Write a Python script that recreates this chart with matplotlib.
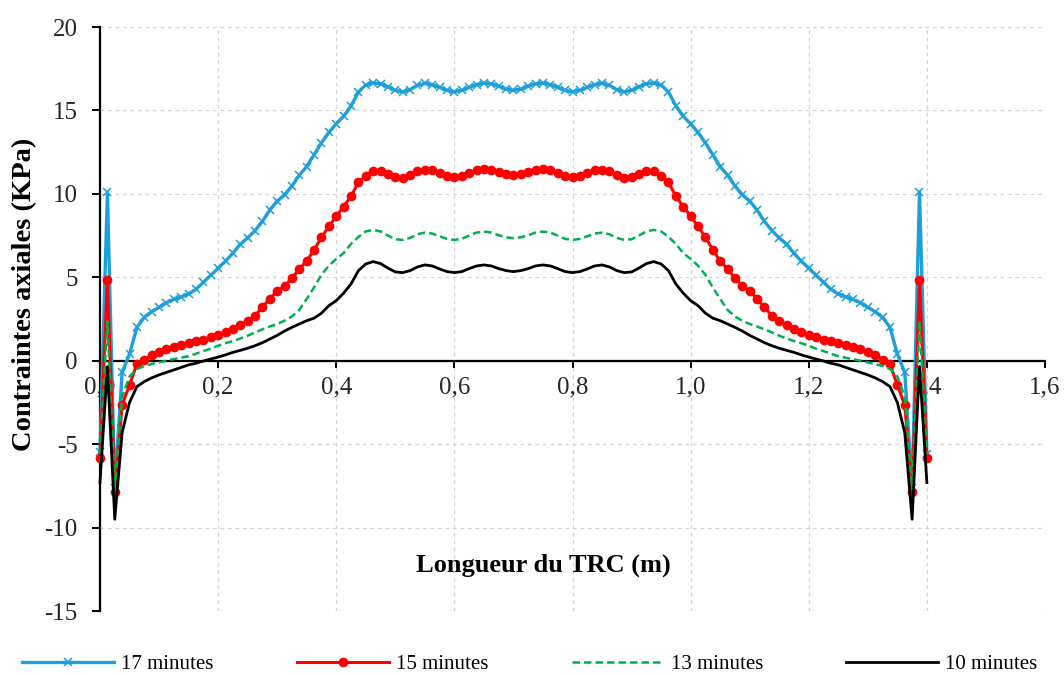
import matplotlib
matplotlib.use("Agg")
import matplotlib.pyplot as plt
from matplotlib.lines import Line2D

# ---------------- data ----------------
longueur = [
    0.0, 0.0125, 0.025, 0.0375, 0.05, 0.0625, 0.075, 0.0875,
    0.1, 0.1125, 0.125, 0.1375, 0.15, 0.1625, 0.175, 0.1875,
    0.2, 0.2125, 0.225, 0.2375, 0.25, 0.2625, 0.275, 0.2875,
    0.3, 0.3125, 0.325, 0.3375, 0.35, 0.3625, 0.375, 0.3875,
    0.4, 0.4125, 0.425, 0.4375, 0.45, 0.4625, 0.475, 0.4875,
    0.5, 0.5125, 0.525, 0.5375, 0.55, 0.5625, 0.575, 0.5875,
    0.6, 0.6125, 0.625, 0.6375, 0.65, 0.6625, 0.675, 0.6875,
    0.7, 0.7125, 0.725, 0.7375, 0.75, 0.7625, 0.775, 0.7875,
    0.8, 0.8125, 0.825, 0.8375, 0.85, 0.8625, 0.875, 0.8875,
    0.9, 0.9125, 0.925, 0.9375, 0.95, 0.9625, 0.975, 0.9875,
    1.0, 1.0125, 1.025, 1.0375, 1.05, 1.0625, 1.075, 1.0875,
    1.1, 1.1125, 1.125, 1.1375, 1.15, 1.1625, 1.175, 1.1875,
    1.2, 1.2125, 1.225, 1.2375, 1.25, 1.2625, 1.275, 1.2875,
    1.3, 1.3125, 1.325, 1.3375, 1.35, 1.3625, 1.375, 1.3875,
    1.4,
]

min17 = [
    -5.5, 10.1, -7.6, -0.7, 0.4, 2.0, 2.6, 2.94, 3.2, 3.48, 3.67, 3.83,
    4.0, 4.28, 4.7, 5.12, 5.54, 5.97, 6.44, 6.98, 7.36, 7.8, 8.35, 9.03,
    9.56, 9.95, 10.47, 11.13, 11.63, 12.35, 13.06, 13.68, 14.2, 14.65, 15.27, 16.1,
    16.53, 16.65, 16.6, 16.42, 16.2, 16.12, 16.25, 16.5, 16.62, 16.55, 16.38, 16.2,
    16.13, 16.2, 16.38, 16.55, 16.64, 16.6, 16.45, 16.28, 16.2,
    16.28, 16.45, 16.6, 16.64, 16.55, 16.38, 16.2, 16.13, 16.2, 16.38, 16.55, 16.62,
    16.5, 16.25, 16.12, 16.2, 16.42, 16.6, 16.65, 16.53, 16.1, 15.27, 14.65, 14.2,
    13.68, 13.06, 12.35, 11.63, 11.13, 10.47, 9.95, 9.56, 9.03, 8.35, 7.8, 7.36,
    6.98, 6.44, 5.97, 5.54, 5.12, 4.7, 4.28, 4.0, 3.83, 3.67, 3.48, 3.2,
    2.94, 2.6, 2.0, 0.4, -0.7, -7.6, 10.1, -5.6,
]

min15 = [
    -5.85, 4.84, -7.84, -2.65, -1.45, -0.2, 0.05, 0.35, 0.55, 0.68, 0.82, 0.95,
    1.08, 1.18, 1.27, 1.4, 1.55, 1.72, 1.92, 2.12, 2.38, 2.7, 3.2, 3.72,
    4.18, 4.48, 4.95, 5.5, 5.98, 6.65, 7.4, 8.05, 8.67, 9.24, 9.85, 10.7,
    11.1, 11.34, 11.36, 11.2, 11.02, 10.98, 11.12, 11.35, 11.45, 11.4, 11.25, 11.06,
    11.0, 11.06, 11.25, 11.42, 11.48, 11.42, 11.3, 11.17, 11.12,
    11.17, 11.3, 11.42, 11.48, 11.42, 11.25, 11.06, 11.0, 11.06, 11.25, 11.4, 11.45,
    11.35, 11.12, 10.98, 11.02, 11.2, 11.36, 11.34, 11.1, 10.7, 9.85, 9.24, 8.67,
    8.05, 7.4, 6.65, 5.98, 5.5, 4.95, 4.48, 4.18, 3.72, 3.2, 2.7, 2.38,
    2.12, 1.92, 1.72, 1.55, 1.4, 1.27, 1.18, 1.08, 0.95, 0.82, 0.68, 0.55,
    0.35, 0.05, -0.2, -1.45, -2.65, -7.84, 4.84, -5.85,
]

min13 = [
    -5.6, 2.35, -7.7, -2.15, -0.95, -0.5, -0.32, -0.2, -0.1, 0.0, 0.1, 0.18,
    0.27, 0.42, 0.58, 0.72, 0.9, 1.05, 1.18, 1.33, 1.5, 1.7, 1.88, 2.05,
    2.2, 2.4, 2.65, 3.05, 3.7, 4.4, 5.15, 5.7, 6.1, 6.45, 7.0, 7.42,
    7.75, 7.84, 7.75, 7.5, 7.28, 7.24, 7.36, 7.58, 7.68, 7.62, 7.46, 7.3,
    7.24, 7.3, 7.5, 7.68, 7.74, 7.68, 7.52, 7.4, 7.34,
    7.4, 7.52, 7.68, 7.74, 7.68, 7.5, 7.3, 7.24, 7.3, 7.46, 7.62, 7.68,
    7.58, 7.36, 7.24, 7.28, 7.5, 7.75, 7.84, 7.75, 7.42, 7.0, 6.45, 6.1,
    5.7, 5.15, 4.4, 3.7, 3.05, 2.65, 2.4, 2.2, 2.05, 1.88, 1.7, 1.5,
    1.33, 1.18, 1.05, 0.9, 0.72, 0.58, 0.42, 0.27, 0.18, 0.1, 0.0, -0.1,
    -0.2, -0.32, -0.5, -0.95, -2.15, -7.7, 2.35, -5.6,
]

min10 = [
    -7.3, -0.35, -9.5, -4.3, -2.5, -1.55, -1.25, -1.03, -0.85, -0.7, -0.55, -0.4,
    -0.25, -0.15, -0.02, 0.1, 0.22, 0.35, 0.5, 0.62, 0.75, 0.9, 1.08, 1.3,
    1.52, 1.78, 2.0, 2.2, 2.4, 2.55, 2.85, 3.3, 3.6, 4.05, 4.6, 5.4,
    5.8, 5.94, 5.82, 5.55, 5.32, 5.28, 5.4, 5.62, 5.74, 5.68, 5.5, 5.34,
    5.28, 5.34, 5.52, 5.68, 5.74, 5.68, 5.52, 5.4, 5.34,
    5.4, 5.52, 5.68, 5.74, 5.68, 5.52, 5.34, 5.28, 5.34, 5.5, 5.68, 5.74,
    5.62, 5.4, 5.28, 5.32, 5.55, 5.82, 5.94, 5.8, 5.4, 4.6, 4.05, 3.6,
    3.3, 2.85, 2.55, 2.4, 2.2, 2.0, 1.78, 1.52, 1.3, 1.08, 0.9, 0.75,
    0.62, 0.5, 0.35, 0.22, 0.1, -0.02, -0.15, -0.25, -0.4, -0.55, -0.7, -0.85,
    -1.03, -1.25, -1.55, -2.5, -4.3, -9.5, -0.35, -7.3,
]

series_labels = ["17 minutes", "15 minutes", "13 minutes", "10 minutes"]
x_ticks = [0.0, 0.2, 0.4, 0.6, 0.8, 1.0, 1.2, 1.4, 1.6]
x_tick_labels = ["0,0", "0,2", "0,4", "0,6", "0,8", "1,0", "1,2", "1,4", "1,6"]
y_ticks = [-15, -10, -5, 0, 5, 10, 15, 20]
y_tick_labels = ["-15", "-10", "-5", "0", "5", "10", "15", "20"]

for s in (min17, min15, min13, min10):
    assert len(s) == len(longueur)

# ---------------- style ----------------
plt.rcParams["font.family"] = ["Liberation Serif", "DejaVu Serif"]

W, H = 1064, 674
fig = plt.figure(figsize=(W / 100, H / 100), dpi=100)
ax = fig.add_axes([100 / W, 63 / H, 945 / W, 584 / H])

BLUE = "#1C9FDA"
RED = "#FF0000"
GREEN = "#00B050"
BLACK = "#000000"

ax.plot(longueur, min17, color=BLUE, lw=2.4, marker="x", ms=6, mew=1.1,
        zorder=3, clip_on=False, label=series_labels[0])
ax.plot(longueur, min15, color=RED, lw=2.2, marker="o", ms=7, mew=0,
        zorder=4, clip_on=False, label=series_labels[1])
ax.plot(longueur, min13, color=GREEN, lw=1.8, ls=(0, (3, 1.6)),
        zorder=5, clip_on=False, label=series_labels[2])
ax.plot(longueur, min10, color=BLACK, lw=2.0,
        zorder=6, clip_on=False, label=series_labels[3])

ax.set_xlim(0, 1.6)
ax.set_ylim(-15, 20)
ax.set_xticks(x_ticks)
ax.set_xticklabels(x_tick_labels)
ax.set_yticks(y_ticks)
ax.set_yticklabels(y_tick_labels)

ax.spines["top"].set_visible(False)
ax.spines["right"].set_visible(False)
ax.spines["bottom"].set_position(("data", 0))
ax.spines["bottom"].set_linewidth(1.6)
ax.spines["left"].set_linewidth(1.6)
ax.spines["bottom"].set_zorder(2.6)

ax.tick_params(axis="x", direction="out", length=5, width=1.4, pad=6.5,
               labelsize=18, colors="black")
ax.tick_params(axis="y", direction="out", length=6, width=1.4, pad=10,
               labelsize=18, colors="black")
for lab in ax.get_xticklabels() + ax.get_yticklabels():
    lab.set_color("#262626")

ax.grid(True, color="#D4D4D4", lw=0.9, ls=(0, (3, 3)), zorder=0)
ax.set_axisbelow(True)

fig.text(25 / W, 1 - 294 / H, "Contraintes axiales (KPa)", rotation=90,
         fontsize=20.5, fontweight="bold", ha="center", va="center")
fig.text(543 / W, 1 - 565 / H, "Longueur du TRC (m)",
         fontsize=19, fontweight="bold", ha="center", va="center")

handles = [
    Line2D([], [], color=BLUE, lw=2.4, marker="x", ms=6, mew=1.1),
    Line2D([], [], color=RED, lw=2.2, marker="o", ms=7, mew=0),
    Line2D([], [], color=GREEN, lw=1.8, ls=(0, (3, 1.6))),
    Line2D([], [], color=BLACK, lw=2.0),
]
fig.legend(handles, series_labels, loc="center", bbox_to_anchor=(530 / W, 10 / H),
           ncol=4, frameon=False, fontsize=15, handlelength=4.4,
           handletextpad=0.35, columnspacing=4.0, numpoints=1,
           borderpad=0.1, borderaxespad=0)

fig.savefig("out.png", dpi=100)
